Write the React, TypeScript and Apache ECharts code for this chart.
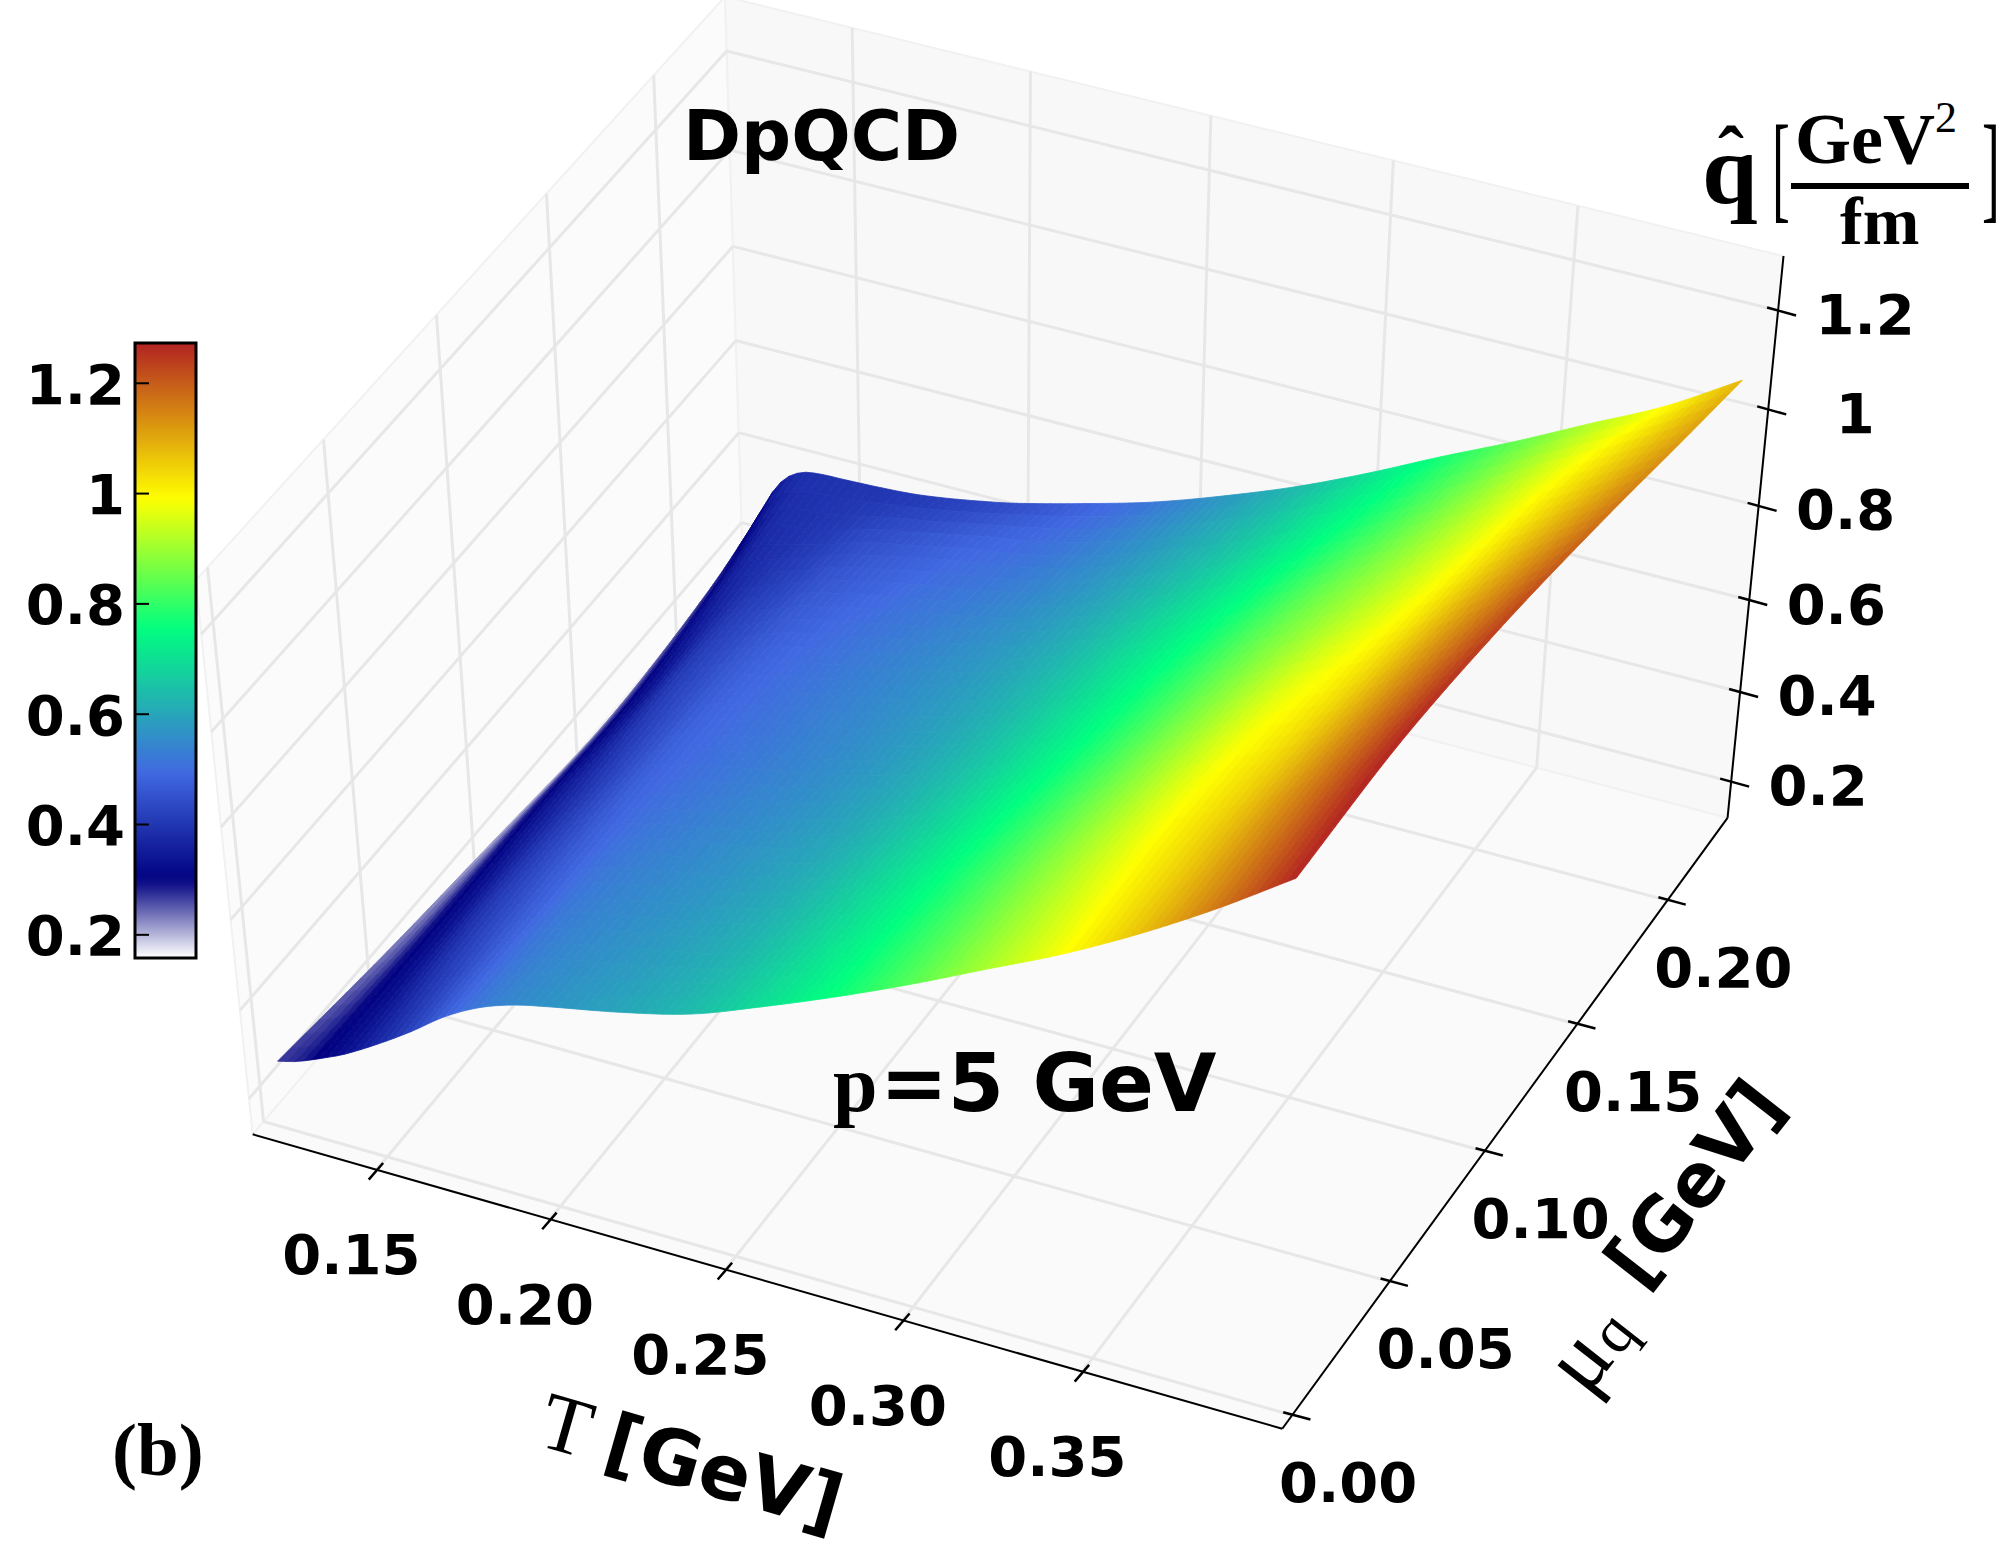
import React, { useEffect, useRef } from "react";
import * as echarts from "echarts";

// ---- readings (q-hat in GeV^2/fm) ----
const temperatures = [0.12, 0.125, 0.13, 0.135, 0.14, 0.15, 0.16, 0.17, 0.18, 0.19, 0.2, 0.22, 0.24, 0.26, 0.28, 0.3, 0.32, 0.34, 0.36, 0.38, 0.4];
const chemicalPotentials = [0, 0.05, 0.1, 0.15, 0.2, 0.228];
const qhatMu000 = [0.27, 0.28, 0.295, 0.312, 0.33, 0.375, 0.425, 0.48, 0.522, 0.55, 0.568, 0.6, 0.64, 0.7, 0.765, 0.835, 0.91, 0.985, 1.07, 1.165, 1.27];
const qhatMu050 = [0.232, 0.255, 0.285, 0.312, 0.335, 0.395, 0.44, 0.48, 0.515, 0.535, 0.55, 0.58, 0.62, 0.68, 0.75, 0.825, 0.905, 0.985, 1.06, 1.16, 1.27];
const qhatMu100 = [0.203, 0.24, 0.28, 0.315, 0.345, 0.395, 0.44, 0.48, 0.5, 0.515, 0.53, 0.56, 0.6, 0.655, 0.725, 0.8, 0.88, 0.96, 1.03, 1.13, 1.235];
const qhatMu150 = [0.175, 0.225, 0.27, 0.31, 0.34, 0.405, 0.44, 0.47, 0.49, 0.505, 0.52, 0.55, 0.585, 0.635, 0.7, 0.77, 0.845, 0.915, 0.99, 1.085, 1.18];
const qhatMu200 = [0.165, 0.25, 0.3, 0.345, 0.375, 0.395, 0.415, 0.44, 0.455, 0.47, 0.485, 0.51, 0.548, 0.598, 0.655, 0.725, 0.795, 0.87, 0.95, 1.03, 1.115];
const qhatMu228 = [0.18, 0.29, 0.352, 0.381, 0.391, 0.394, 0.397, 0.402, 0.412, 0.425, 0.44, 0.478, 0.52, 0.572, 0.63, 0.697, 0.77, 0.84, 0.915, 0.989, 1.08];
const qhatRows = [qhatMu000, qhatMu050, qhatMu100, qhatMu150, qhatMu200, qhatMu228];

const tTicks = [0.15, 0.2, 0.25, 0.3, 0.35];
const muTicks = [0, 0.05, 0.1, 0.15, 0.2];
const zTicks = [0.2, 0.4, 0.6, 0.8, 1.0, 1.2];
const zTickLabels = ["0.2", "0.4", "0.6", "0.8", "1", "1.2"];

// colour map
const colorValues = [0.16, 0.3, 0.494, 0.756, 0.99, 1.274];
const colorStops = ["#ffffff", "#000080", "#4169e1", "#00ff7f", "#ffff00", "#b22222"];

// box limits and view
const tRange = [0.114, 0.405];
const muRange = [-0.005, 0.234];
const zRange = [0.118, 1.308];
const origin = [252.7, 1134.3];
const vanishT = [-30300, -7604];
const vanishMu = [8883, -9000];
const vanishZ = [986, 8263];
const [weightT, weightMu, weightZ] = [-0.0326, 0.0602, -0.0721];

const map = echarts.number.linearMap;
function project(T: number, mu: number, z: number): number[] {
  const u = map(T, tRange, [0, 1], false) * weightT;
  const v = map(mu, muRange, [0, 1], false) * weightMu;
  const w = map(z, zRange, [0, 1], false) * weightZ;
  const d = 1 + u + v + w;
  return [
    (origin[0] + u * vanishT[0] + v * vanishMu[0] + w * vanishZ[0]) / d,
    (origin[1] + u * vanishT[1] + v * vanishMu[1] + w * vanishZ[1]) / d,
  ];
}

function colorOf(q: number): string {
  if (q <= colorValues[0]) return colorStops[0];
  for (let i = 1; i < colorValues.length; i++) {
    if (q <= colorValues[i]) {
      const t = (q - colorValues[i - 1]) / (colorValues[i] - colorValues[i - 1]);
      return echarts.color.lerp(t, [colorStops[i - 1], colorStops[i]]) as string;
    }
  }
  return colorStops[colorStops.length - 1];
}

const barRange = [0.158, 1.273];
const barBox = { left: 135, right: 196, top: 343, bottom: 958 };
const barColors = Array.from({ length: 61 }, (_, k) =>
  colorOf(barRange[0] + ((barRange[1] - barRange[0]) * k) / 60)
);

const tickT = { inner: [6.7, -6.7], outer: [-7.7, 10], label: [-25, 85] };
const tickMu = { inner: [-9, -3], outer: [18.3, 4.3], label: [56, 67] };
const tickZ = { inner: [-11, -3], outer: [18, 5], label: [87, 4] };

const lineShape = (a: number[], b: number[], color: string, width: number) => ({
  type: "line",
  shape: { x1: a[0], y1: a[1], x2: b[0], y2: b[1] },
  style: { stroke: color, lineWidth: width, lineCap: "butt" },
  silent: true,
});

function panelPolygons() {
  const [a, b] = tRange, [c, d] = muRange, [e, f] = zRange;
  return [
    { pts: [project(a, c, e), project(b, c, e), project(b, d, e), project(a, d, e)], fill: "#fafafa" },
    { pts: [project(a, c, e), project(a, d, e), project(a, d, f), project(a, c, f)], fill: "#fbfbfb" },
    { pts: [project(a, d, e), project(b, d, e), project(b, d, f), project(a, d, f)], fill: "#f8f8f8" },
  ];
}

function gridSegments() {
  const [a, b] = tRange, [c, d] = muRange, [e, f] = zRange;
  const out: number[][][] = [];
  tTicks.forEach((t) => {
    out.push([project(t, c, e), project(t, d, e)]);
    out.push([project(t, d, e), project(t, d, f)]);
  });
  muTicks.forEach((m) => {
    out.push([project(a, m, e), project(b, m, e)]);
    out.push([project(a, m, e), project(a, m, f)]);
  });
  zTicks.forEach((z) => {
    out.push([project(a, c, z), project(a, d, z)]);
    out.push([project(a, d, z), project(b, d, z)]);
  });
  return out;
}

function axisChildren() {
  const [a, b] = tRange, [c, d] = muRange, [e, f] = zRange;
  const kids: any[] = [
    lineShape(project(a, c, e), project(b, c, e), "#000", 2),
    lineShape(project(b, c, e), project(b, d, e), "#000", 2),
    lineShape(project(b, d, e), project(b, d, f), "#000", 2),
  ];
  const tick = (p: number[], s: any) =>
    lineShape([p[0] + s.inner[0], p[1] + s.inner[1]], [p[0] + s.outer[0], p[1] + s.outer[1]], "#000", 2.5);
  tTicks.forEach((t) => kids.push(tick(project(t, c, e), tickT)));
  muTicks.forEach((m) => kids.push(tick(project(b, m, e), tickMu)));
  zTicks.forEach((z) => kids.push(tick(project(b, d, z), tickZ)));
  return kids;
}

// surface cells, far ones first
const cellData: number[][] = [];
for (let j = chemicalPotentials.length - 2; j >= 0; j--) {
  for (let i = 0; i < temperatures.length - 1; i++) {
    cellData.push([i, j, (qhatRows[j][i] + qhatRows[j + 1][i + 1]) / 2]);
  }
}

// smooth shading of one cell between its four readings
function hermite(xs: number[], ys: number[], i: number, a: number): number {
  const n = xs.length;
  const h = xs[i + 1] - xs[i];
  const slope = (k: number) =>
    k === 0
      ? (ys[1] - ys[0]) / (xs[1] - xs[0])
      : k === n - 1
      ? (ys[n - 1] - ys[n - 2]) / (xs[n - 1] - xs[n - 2])
      : (ys[k + 1] - ys[k - 1]) / (xs[k + 1] - xs[k - 1]);
  const a2 = a * a, a3 = a2 * a;
  return (
    (2 * a3 - 3 * a2 + 1) * ys[i] +
    (a3 - 2 * a2 + a) * h * slope(i) +
    (-2 * a3 + 3 * a2) * ys[i + 1] +
    (a3 - a2) * h * slope(i + 1)
  );
}

function renderCell(_: any, api: any) {
  const i = api.value(0), j = api.value(1);
  const t0 = temperatures[i], t1 = temperatures[i + 1];
  const m0 = chemicalPotentials[j], m1 = chemicalPotentials[j + 1];
  const nT = Math.max(2, Math.round((t1 - t0) / 0.0025));
  const nM = Math.max(3, Math.round((m1 - m0) / 0.00625));
  const at = (a: number, b: number) => {
    const across = qhatRows.map((row) => hermite(temperatures, row, i, a));
    return hermite(chemicalPotentials, across, j, b);
  };
  const pt = (a: number, b: number) => project(t0 + (t1 - t0) * a, m0 + (m1 - m0) * b, at(a, b));
  const children: any[] = [];
  for (let b = nM - 1; b >= 0; b--) {
    for (let a = 0; a < nT; a++) {
      const a0 = a / nT, a1 = (a + 1) / nT, b0 = b / nM, b1 = (b + 1) / nM;
      const c = colorOf(at((a0 + a1) / 2, (b0 + b1) / 2));
      children.push({
        type: "polygon",
        shape: { points: [pt(a0, b0), pt(a1, b0), pt(a1, b1), pt(a0, b1)] },
        style: { fill: c, stroke: c, lineWidth: 0.8 },
        silent: true,
      });
    }
  }
  return { type: "group", children };
}

const txt = (text: string, x: number, y: number, font: string, extra: any = {}) => ({
  type: "text",
  x,
  y,
  rotation: extra.rotation || 0,
  scaleX: extra.scaleX || 1,
  z: 100,
  silent: true,
  style: { text, font, fill: "#000", align: extra.align || "center", verticalAlign: "middle" },
});
// text placed on its baseline
const base = (text: string, x: number, baseY: number, size: number, font: string, align = "left", scaleX = 1) =>
  txt(text, x, baseY - 0.34 * size, `${font.replace("SIZE", size + "px")}`, { align, scaleX });

const BOLD56 = 'bold 56px "DejaVu Sans"';
const SANS = 'bold SIZE "DejaVu Sans"';
const SERIF = 'SIZE "Liberation Serif"';
const SERIFB = 'bold SIZE "Liberation Serif"';

function graphics() {
  const [, b] = tRange, [c, d] = muRange, [e] = zRange;
  const items: any[] = [];
  tTicks.forEach((t) => {
    const p = project(t, c, e);
    items.push(txt(t.toFixed(2), p[0] + tickT.label[0], p[1] + tickT.label[1], BOLD56));
  });
  muTicks.forEach((m) => {
    const p = project(b, m, e);
    items.push(txt(m.toFixed(2), p[0] + tickMu.label[0], p[1] + tickMu.label[1], BOLD56));
  });
  zTicks.forEach((z, k) => {
    const p = project(b, d, z);
    items.push(txt(zTickLabels[k], p[0] + tickZ.label[0], p[1] + tickZ.label[1], BOLD56));
  });
  // colour bar frame, ticks and labels
  items.push({
    type: "rect",
    z: 100,
    silent: true,
    shape: { x: barBox.left, y: barBox.top, width: barBox.right - barBox.left, height: barBox.bottom - barBox.top },
    style: { fill: "none", stroke: "#000", lineWidth: 3 },
  });
  zTicks.forEach((z, k) => {
    const y = map(z, barRange, [barBox.bottom, barBox.top], false);
    items.push({
      type: "line",
      z: 100,
      silent: true,
      shape: { x1: barBox.left, y1: y, x2: barBox.left + 14, y2: y },
      style: { stroke: "#000", lineWidth: 2 },
    });
    items.push(txt(zTickLabels[k], 125, y + 1, BOLD56, { align: "right" }));
  });
  // annotations
  items.push(base("DpQCD", 683, 160, 70, SANS));
  items.push(base("p", 833, 1111, 80, SERIFB));
  items.push(base("=5 GeV", 880, 1111, 81, SANS));
  items.push(base("(b)", 112, 1475, 75, SERIFB));
  // T axis title
  const rT = (-16 * Math.PI) / 180;
  items.push(txt("T", 567, 1425, '82px "Liberation Serif"', { rotation: rT }));
  items.push(txt("[GeV]", 724, 1472, 'bold 76px "DejaVu Sans"', { rotation: rT }));
  // mu axis title
  const rM = (52 * Math.PI) / 180;
  items.push(txt("μ", 1577, 1359, '92px "Liberation Serif"', { rotation: rM }));
  items.push(txt("q", 1612, 1332, '62px "Liberation Serif"', { rotation: rM }));
  items.push(txt("[GeV]", 1694, 1183, 'bold 74px "DejaVu Sans"', { rotation: rM }));
  // z axis title
  items.push(base("q", 1702, 203, 100, SERIFB));
  items.push(base("ˆ", 1731, 181, 78, SERIFB, "center"));
  items.push(base("[", 1772, 207, 119, SERIF, "left", 0.45));
  items.push(base("GeV", 1795, 163, 72, SERIFB));
  items.push(base("2", 1935, 132, 44, SERIF));
  items.push({
    type: "rect",
    z: 100,
    silent: true,
    shape: { x: 1791, y: 183, width: 178, height: 6 },
    style: { fill: "#000" },
  });
  items.push(base("fm", 1840, 244, 68, SERIFB));
  items.push(base("]", 1982, 207, 119, SERIF, "left", 0.45));
  return items;
}

export default function App() {
  const ref = useRef<HTMLDivElement>(null);
  useEffect(() => {
    const chart = echarts.init(ref.current!, undefined, { renderer: "svg" });
    const panels = panelPolygons();
    const segments = gridSegments();
    chart.setOption({
      animation: false,
      backgroundColor: "#ffffff",
      visualMap: {
        type: "continuous",
        seriesIndex: 2,
        dimension: 2,
        min: barRange[0],
        max: barRange[1],
        left: barBox.left,
        top: barBox.top,
        padding: 0,
        itemWidth: barBox.right - barBox.left,
        itemHeight: barBox.bottom - barBox.top,
        calculable: false,
        hoverLink: false,
        inRange: { color: barColors },
        outOfRange: { color: "#b22222" },
        textStyle: { color: "transparent" },
      },
      series: [
        {
          type: "custom",
          coordinateSystem: "none",
          silent: true,
          clip: false,
          data: panels.map((_, k) => [k]),
          renderItem: (_: any, api: any) => {
            const p = panels[api.value(0)];
            return {
              type: "polygon",
              shape: { points: p.pts },
              style: { fill: p.fill, stroke: "#f1f1f1", lineWidth: 2 },
              silent: true,
            };
          },
        },
        {
          type: "custom",
          coordinateSystem: "none",
          silent: true,
          clip: false,
          data: segments.map((_, k) => [k]),
          renderItem: (_: any, api: any) => {
            const s = segments[api.value(0)];
            return lineShape(s[0], s[1], "#e7e7e7", 3);
          },
        },
        {
          type: "custom",
          coordinateSystem: "none",
          silent: true,
          clip: false,
          dimensions: ["iT", "iMu", "qhat"],
          data: cellData,
          renderItem: renderCell,
        },
        {
          type: "custom",
          coordinateSystem: "none",
          silent: true,
          clip: false,
          data: [[0]],
          renderItem: () => ({ type: "group", children: axisChildren() }),
        },
      ],
      graphic: { elements: graphics() },
    });
    return () => chart.dispose();
  }, []);
  return (
    <div
      ref={ref}
      style={{ position: "absolute", left: 0, top: 0, width: 2005, height: 1547, overflow: "hidden" }}
    />
  );
}
